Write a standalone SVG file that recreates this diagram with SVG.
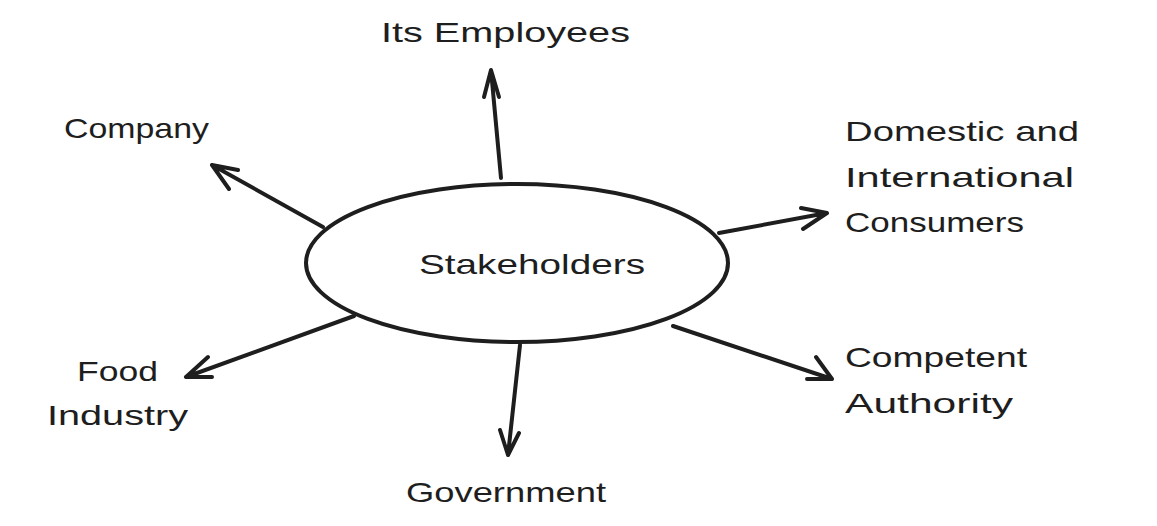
<svg xmlns="http://www.w3.org/2000/svg" width="1157" height="526" viewBox="0 0 1157 526">
<style>
text{font-family:"Liberation Sans","DejaVu Sans",sans-serif;font-size:28px;fill:#1e1e1e}
.c{fill:none;stroke:#1e1e1e;stroke-width:4;stroke-linecap:round;stroke-linejoin:round}
</style>
<rect width="1157" height="526" fill="#fff"/>
<g id="stakeholders">
<ellipse cx="517" cy="263" rx="211" ry="79" class="c" fill="#fff"/>
<text x="419" y="274" textLength="226" lengthAdjust="spacingAndGlyphs">Stakeholders</text>
</g>
<g id="connectors">
<path class="c" d="M501 178 L491 70 M484 97 L491 70 L499 97"/>
<path class="c" d="M323 227 L212 165 M229 189 L212 165 L238 170"/>
<path class="c" d="M719 233 L827 213 M803 229 L827 213 L801 208"/>
<path class="c" d="M673 326 L832 379 M816 357 L832 379 L807 379"/>
<path class="c" d="M354 316 L186 377 M208 357 L186 377 L212 377"/>
<path class="c" d="M520 345 L508 455 M500 430 L508 455 L519 433"/>
</g>
<g id="employees"><text x="381" y="42" textLength="249" lengthAdjust="spacingAndGlyphs">Its Employees</text></g>
<g id="company"><text x="64" y="138" textLength="145" lengthAdjust="spacingAndGlyphs">Company</text></g>
<g id="consumers">
<text x="845" y="141" textLength="234" lengthAdjust="spacingAndGlyphs">Domestic and</text>
<text x="845" y="187" textLength="229" lengthAdjust="spacingAndGlyphs">International</text>
<text x="845" y="232" textLength="179" lengthAdjust="spacingAndGlyphs">Consumers</text>
</g>
<g id="authority">
<text x="845" y="367" textLength="182" lengthAdjust="spacingAndGlyphs">Competent</text>
<text x="845" y="413" textLength="168" lengthAdjust="spacingAndGlyphs">Authority</text>
</g>
<g id="food">
<text x="77" y="381" textLength="81" lengthAdjust="spacingAndGlyphs">Food</text>
<text x="47" y="425" textLength="141" lengthAdjust="spacingAndGlyphs">Industry</text>
</g>
<g id="government"><text x="406" y="502" textLength="200" lengthAdjust="spacingAndGlyphs">Government</text></g>
</svg>
